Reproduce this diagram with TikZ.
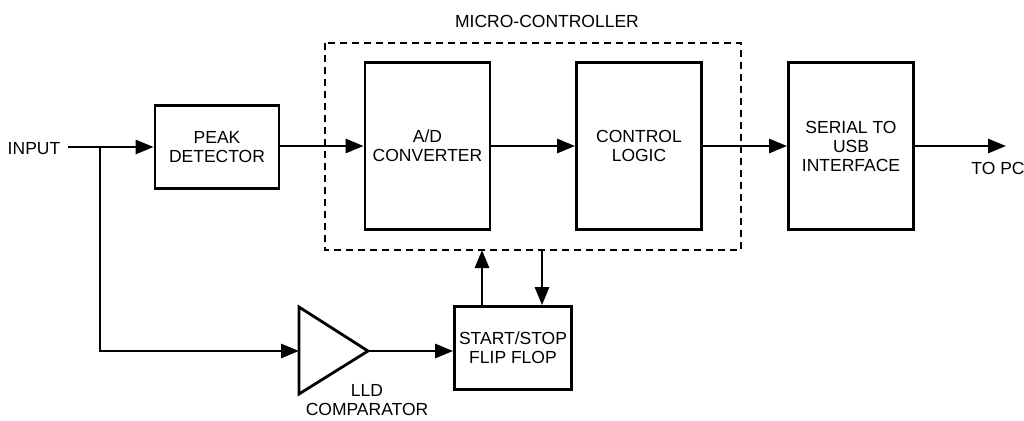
\documentclass[tikz,border=0pt]{standalone}
\usepackage{fontspec}
\setmainfont{Liberation Sans}
\usetikzlibrary{arrows.meta}
\begin{document}
\begin{tikzpicture}[x=1pt,y=-1pt,
  blk/.style={draw,line width=2.8pt,inner sep=0pt,align=center,font=\fontsize{17.5}{19}\selectfont},
  lbl/.style={inner sep=0pt,align=center,font=\fontsize{17.5}{19}\selectfont},
  wire/.style={line width=2.8pt},
  arr/.style={wire,-{Triangle[length=18pt,width=14pt]}}]
\useasboundingbox (0,0) rectangle (1024,420);
\fill[white] (0,0) rectangle (1024,420);
% dashed micro-controller
\draw[line width=2.6pt,dash pattern=on 7pt off 5pt] (325,43) rectangle (741,250);
\node[lbl] (mc) at (547,21) {MICRO-CONTROLLER};
% blocks
\node[blk,minimum width=124pt,minimum height=83pt] (peak) at (217,147) {PEAK\\DETECTOR};
\node[blk,minimum width=125pt,minimum height=167pt] (adc) at (427.5,146) {A/D\\CONVERTER};
\node[blk,minimum width=125pt,minimum height=167pt] (ctl) at (639,146) {CONTROL\\LOGIC};
\node[blk,minimum width=125pt,minimum height=167pt] (usb) at (851,146) {SERIAL TO\\USB\\INTERFACE};
\node[blk,minimum width=117pt,minimum height=83pt] (ff) at (513,348) {START/STOP\\FLIP FLOP};
% labels
\node[lbl] (inp) at (34,149) {INPUT};
\node[lbl] (topc) at (998,168) {TO PC};
\node[lbl] (lld) at (367,400) {LLD\\COMPARATOR};
% comparator triangle
\draw[line width=2.8pt,line join=miter] (299,307) -- (368,351) -- (299,394) -- cycle;
\coordinate (triin) at (299,351);
\coordinate (triout) at (368,351);
\coordinate (inl) at (68,147);
\coordinate (br) at (100,147);
\coordinate (brb) at (100,351);
\coordinate (pcend) at (1006,146);
\coordinate (mcb1) at (482,250);
\coordinate (mcb2) at (542,250);
% connectors
\draw[arr] (inl) -- (peak.west);
\draw[arr] (peak.east |- adc.west) -- (adc.west);
\draw[arr] (adc.east) -- (ctl.west);
\draw[arr] (ctl.east) -- (usb.west);
\draw[arr] (usb.east) -- (pcend);
\draw[arr] (br) -- (brb) -- (triin);
\draw[arr] (triout) -- (triout -| ff.west);
\draw[arr] (ff.north -| mcb1) -- (mcb1);
\draw[arr] (mcb2) -- (ff.north -| mcb2);
\end{tikzpicture}
\end{document}
